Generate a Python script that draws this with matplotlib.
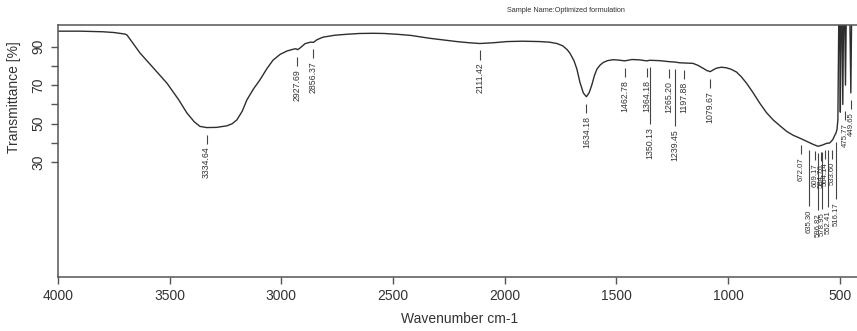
import numpy as np
import matplotlib
matplotlib.use("Agg")
import matplotlib.pyplot as plt

plt.rcParams['font.family'] = ['Liberation Sans', 'DejaVu Sans']

# IR spectrum (wavenumber in cm-1, transmittance in %)
wavenumber = [4000, 3900, 3800, 3750, 3700, 3691, 3633, 3570, 3512, 3460,
              3423, 3390, 3364, 3334, 3290, 3244, 3220, 3199, 3175, 3154,
              3125, 3096, 3065, 3037, 3005, 2975, 2948, 2935, 2927, 2917,
              2894, 2870, 2856, 2840, 2813, 2760, 2706, 2650, 2590, 2540,
              2483, 2420, 2335, 2270, 2214, 2160, 2111, 2050, 1990, 1920,
              1842, 1800, 1766, 1740, 1720, 1708, 1690, 1677, 1663, 1648,
              1634, 1622, 1610, 1598, 1587, 1572, 1558, 1540, 1515, 1490,
              1462, 1430, 1395, 1364, 1350, 1305, 1265, 1239, 1216, 1197,
              1157, 1135, 1112, 1095, 1080, 1065, 1052, 1030, 1007, 985,
              962, 940, 917, 890, 858, 828, 798, 768, 737, 708,
              678, 650, 619, 597, 578, 559, 545, 531, 522, 517,
              512, 508, 504, 500, 497, 494, 490, 486, 482, 478,
              474, 470, 466, 460, 455, 450, 446, 440, 430, 420,
              410, 400]
transmittance = [98.0, 98.0, 97.7, 97.3, 96.5, 96.0, 86.7, 78.5, 71.0, 62.5,
                 55.6, 51.0, 48.6, 48.0, 48.1, 48.9, 50.0, 52.0, 56.5, 62.4,
                 68.0, 72.7, 78.5, 83.0, 86.0, 87.7, 88.6, 88.9, 88.4, 89.2,
                 91.5, 92.3, 92.2, 93.6, 94.9, 95.9, 96.4, 96.8, 96.9, 96.8,
                 96.4, 95.8, 94.3, 93.4, 92.6, 92.0, 91.6, 92.0, 92.6, 92.8,
                 92.6, 92.3, 91.6, 90.4, 88.4, 86.6, 82.8, 78.5, 71.5, 66.0,
                 64.0, 66.0, 70.0, 75.0, 78.3, 80.5, 81.8, 82.7, 83.2, 83.0,
                 82.6, 83.3, 83.1, 82.6, 82.9, 82.7, 82.2, 82.0, 81.6, 81.5,
                 81.3, 80.3, 78.8, 77.6, 77.0, 78.0, 78.8, 79.3, 79.0, 78.2,
                 76.8, 74.3, 71.0, 66.5, 60.7, 55.8, 52.0, 49.0, 46.0, 44.0,
                 42.5, 41.0, 39.3, 38.3, 38.9, 39.8, 40.0, 41.7, 44.0, 45.0,
                 47.0, 52.0, 104.0, 108.0, 56.0, 110.0, 108.0, 60.0, 112.0, 110.0,
                 70.0, 110.0, 112.0, 108.0, 110.0, 66.0, 110.0, 112.0, 110.0, 112.0,
                 110.0, 112.0]

# picked peaks; the ones in crowded spots get a long leader line
peaks = [3334.64, 2927.69, 2856.37, 2111.42, 1634.18, 1462.78, 1364.18,
         1350.13, 1265.20, 1239.45, 1197.88, 1079.67, 672.07, 635.30,
         609.17, 596.82, 584.76, 578.95, 564.14, 552.41, 533.60, 516.17,
         475.77, 449.65]
long_leader = [1350.13, 1239.45, 635.30, 596.82, 578.95, 552.41, 516.17]

W, H = 857, 331
fig = plt.figure(figsize=(W / 100, H / 100), dpi=100)
ax = fig.add_axes([58 / W, 54 / H, (862 - 58) / W, (277 - 25) / H])

ax.plot(wavenumber, transmittance, color='#2e2e2e', lw=1.0)
ax.set_xlim(4000, 400)
ax.set_ylim(-29.5, 101.2)

wn_arr = np.array(wavenumber)
t_arr = np.array(transmittance)
for p in peaks:
    near = t_arr[np.abs(wn_arr - p) <= 12]
    base = near.min() if len(near) else np.interp(p, wn_arr[::-1], t_arr[::-1])
    top = base - 3.6
    length = 29.5 if p in long_leader else 4.7
    small = p < 700
    ax.vlines(p, top - length, top, color='#444444', lw=0.8)
    ax.text(p, top - length - 1.6, f"{p:.2f}", rotation=90, ha='center',
            va='top', fontsize=5.6 if small else 6.3, color='#333333')

for side in ['top', 'bottom', 'left']:
    ax.spines[side].set_color('#555555')
    ax.spines[side].set_linewidth(1.1)
ax.spines['right'].set_visible(False)

ax.set_xticks([4000, 3500, 3000, 2500, 2000, 1500, 1000, 500])
ax.set_yticks([30, 40, 50, 60, 70, 80, 90])
ax.set_yticklabels(['30', '', '50', '', '70', '', '90'], rotation=90, va='center')
ax.tick_params(axis='both', colors='#555555', labelcolor='#333333',
               labelsize=10, length=5, width=1)
ax.tick_params(axis='x', pad=4)
ax.tick_params(axis='y', pad=4)

ax.set_xlabel('Wavenumber cm-1', fontsize=10, color='#333333', labelpad=6)
ax.set_ylabel('Transmittance [%]', fontsize=10, color='#333333')
ax.yaxis.set_label_coords(-0.046, 0.714)

fig.text(566 / W, 1 - 11 / H, 'Sample Name:Optimized formulation',
         fontsize=5.2, ha='center', va='center', color='#333333')

fig.savefig('out.png', dpi=100)
